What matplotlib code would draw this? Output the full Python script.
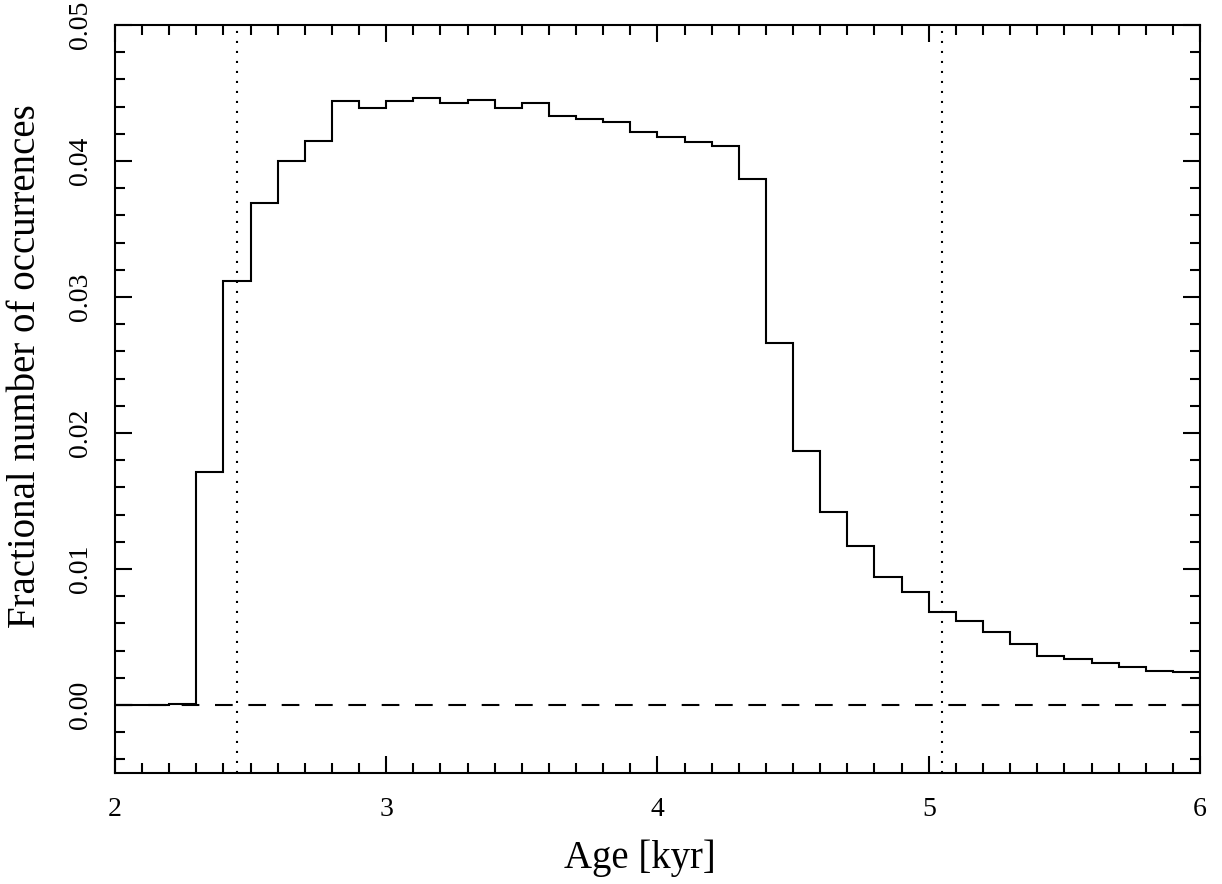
import numpy as np
import matplotlib.pyplot as plt
from matplotlib.ticker import MultipleLocator

plt.rcParams['font.family'] = ['Liberation Serif', 'DejaVu Serif']

# histogram bin edges in kyr (0.1 kyr bins from 2 to 6)
bin_edges = np.round(np.arange(2.0, 6.0001, 0.1), 2)

# fractional number of occurrences per bin
frac = [
    0.0000, 0.0000, 0.0001, 0.0171, 0.0312, 0.0369, 0.0400, 0.0415,
    0.0444, 0.0439, 0.0444, 0.0446, 0.0443, 0.0445, 0.0439, 0.0443,
    0.0433, 0.0431, 0.0429, 0.0421, 0.0418, 0.0414, 0.0411, 0.0387,
    0.0266, 0.0187, 0.0142, 0.0117, 0.0094, 0.0083, 0.0068, 0.0062,
    0.0054, 0.0045, 0.0036, 0.0034, 0.0031, 0.0028, 0.0025, 0.0024,
]

# vertical markers (interval limits)
vlines = [2.45, 5.05]

fig = plt.figure(figsize=(12.22, 8.84), dpi=100)
ax = fig.add_axes([0.0941, 0.1256, 0.8879, 0.8461])

ax.stairs(frac, bin_edges, color='k', lw=1.5)
ax.axhline(0.0, color='k', lw=1.5, linestyle=(0, (8.5, 7.5)))
for xv in vlines:
    ax.axvline(xv, color='k', lw=1.5, linestyle=(0, (1, 3.8)))

ax.set_xlim(2, 6)
ax.set_ylim(-0.005, 0.05)
ax.xaxis.set_major_locator(MultipleLocator(1))
ax.xaxis.set_minor_locator(MultipleLocator(0.1))
ax.yaxis.set_major_locator(MultipleLocator(0.01))
ax.yaxis.set_minor_locator(MultipleLocator(0.002))
ax.yaxis.set_major_formatter(plt.FormatStrFormatter('%.2f'))

ax.tick_params(which='both', direction='in', top=True, right=True,
               labelsize=20, width=1.5)
ax.tick_params(axis='x', pad=17)
ax.tick_params(axis='y', pad=16)
ax.tick_params(which='major', length=12)
ax.tick_params(which='minor', length=7)
for lab in ax.get_yticklabels():
    lab.set_rotation(90)
    lab.set_va('center')
for s in ax.spines.values():
    s.set_linewidth(1.5)

ax.set_xlabel('Age [kyr]', fontsize=28)
ax.set_ylabel('Fractional number of occurrences', fontsize=28)
ax.xaxis.set_label_coords(0.484, -0.089)
ax.yaxis.set_label_coords(-0.0654, 0.544)

fig.savefig('out.png', dpi=100)
